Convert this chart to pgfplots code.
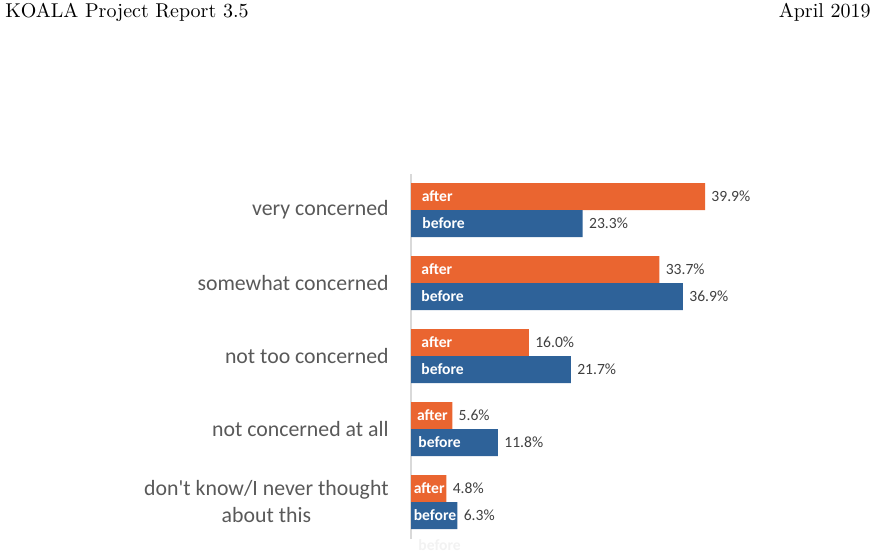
\documentclass[border=0pt]{standalone}
\usepackage{fontspec}
\usepackage{pgfplots}
\pgfplotsset{compat=1.18}
\newfontfamily\carlito{Carlito}
\definecolor{cafter}{HTML}{EA6530}
\definecolor{cbefore}{HTML}{2E6299}
\definecolor{axgray}{HTML}{D9D9D9}
\definecolor{labgray}{HTML}{595959}
\definecolor{valgray}{HTML}{404040}
\begin{document}
\begin{tikzpicture}
\path[use as bounding box] (0,0) rectangle (444.5pt,-278pt);
\node[anchor=base west, inner sep=0] at (2.5pt,-9pt) {KOALA Project Report 3.5};
\node[anchor=base east, inner sep=0] at (435.5pt,-9pt) {April 2019};
\begin{axis}[
  at={(205.5pt,-269.25pt)}, anchor=south west,
  scale only axis, width=147.4pt, height=182.5pt,
  xmin=0, xmax=40, ymin=-0.5, ymax=4.5,
  axis x line=none,
  axis y line*=left,
  y axis line style={draw=axgray, line width=0.8pt},
  xtick=\empty,
  ytick={0,1,2,3,4},
  yticklabels={{don't know/I never thought\\about this},{not concerned at all},{not too concerned},{somewhat concerned},{very concerned}},
  major tick length=0pt,
  yticklabel style={font=\carlito\fontsize{10.9}{13.5}\selectfont, text=labgray, align=center, inner sep=0pt, xshift=-11pt},
  xbar, bar width=13.5pt,
  clip=false,
  /pgf/number format/assume math mode=true,
  nodes near coords={\pgfmathprintnumber[fixed,precision=1,fixed zerofill,assume math mode=true]{\pgfplotspointmeta}\%},
  every node near coord/.append style={font=\carlito\fontsize{7.8}{9}\selectfont, text=valgray, anchor=west, inner sep=0pt, xshift=3pt},
]
\addplot[fill=cafter, draw=none, bar shift=6.75pt] coordinates {
(39.9,4) (33.7,3) (16.0,2) (5.6,1) (4.8,0)};
\addplot[fill=cbefore, draw=none, bar shift=-6.75pt] coordinates {
(23.3,4) (36.9,3) (21.7,2) (11.8,1) (6.3,0)};
\tikzset{inlab/.style={anchor=west, inner sep=0pt, text=white, font=\carlito\bfseries\fontsize{7.8}{9}\selectfont}}
\node[inlab, xshift=5.2pt, yshift=6.75pt] at (axis cs:0,4) {after};
\node[inlab, xshift=5.5pt, yshift=-6.75pt] at (axis cs:0,4) {before};
\node[inlab, xshift=5pt, yshift=6.75pt] at (axis cs:0,3) {after};
\node[inlab, xshift=5pt, yshift=-6.75pt] at (axis cs:0,3) {before};
\node[inlab, xshift=5pt, yshift=6.75pt] at (axis cs:0,2) {after};
\node[inlab, xshift=5pt, yshift=-6.75pt] at (axis cs:0,2) {before};
\node[inlab, xshift=2.8pt, yshift=6.75pt] at (axis cs:0,1) {after};
\node[inlab, xshift=3.5pt, yshift=-6.75pt] at (axis cs:0,1) {before};
\node[inlab, xshift=1.2pt, yshift=6.75pt] at (axis cs:0,0) {after};
\node[inlab, xshift=1.2pt, yshift=-6.75pt] at (axis cs:0,0) {before};
\end{axis}
\node[anchor=west, inner sep=0pt, text=black!5, font=\carlito\bfseries\fontsize{7.8}{9}\selectfont] at (209pt,-272.5pt) {before};
\end{tikzpicture}
\end{document}
